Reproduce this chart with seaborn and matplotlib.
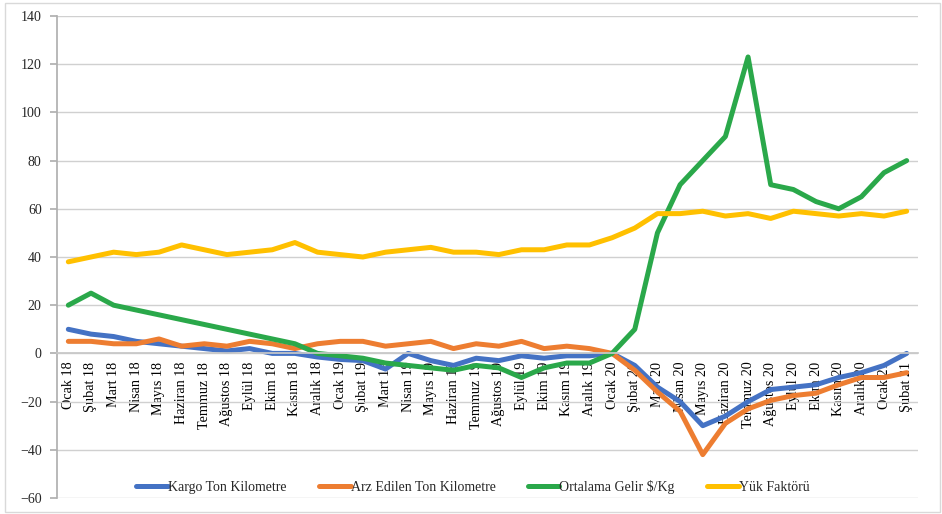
import numpy as np
import pandas as pd
import matplotlib
matplotlib.use("Agg")
import matplotlib.pyplot as plt
import seaborn as sns
from matplotlib.patches import Rectangle

months = ["Ocak 18", "Şubat 18", "Mart 18", "Nisan 18", "Mayıs 18", "Haziran 18",
          "Temmuz 18", "Ağustos 18", "Eylül 18", "Ekim 18", "Kasım 18", "Aralık 18",
          "Ocak 19", "Şubat 19", "Mart 19", "Nisan 19", "Mayıs 19", "Haziran 19",
          "Temmuz 19", "Ağustos 19", "Eylül 19", "Ekim 19", "Kasım 19", "Aralık 19",
          "Ocak 20", "Şubat 20", "Mart 20", "Nisan 20", "Mayıs 20", "Haziran 20",
          "Temmuz 20", "Ağustos 20", "Eylül 20", "Ekim 20", "Kasım 20", "Aralık 20",
          "Ocak 21", "Şubat 21"]

kargo = [10, 8, 7, 5, 4, 3, 2, 1, 2, 0, 0, -1.5,
         -2.5, -3, -6.5, 0, -3, -5, -2, -3, -1, -2, -1, -1,
         0, -5, -14, -20, -30, -26, -20, -15, -14, -13, -10, -8,
         -5, 0]
arz = [5, 5, 4, 4, 6, 3, 4, 3, 5, 4, 2, 4,
       5, 5, 3, 4, 5, 2, 4, 3, 5, 2, 3, 2,
       0, -7, -16, -24, -42, -29, -23, -19.5, -17.5, -16.5, -13, -10,
       -10, -8]
gelir = [20, 25, 20, 18, 16, 14, 12, 10, 8, 6, 4, 0,
         -1, -2, -4, -5, -6, -7, -5, -6, -10, -6, -4, -4,
         0, 10, 50, 70, 80, 90, 123, 70, 68, 63, 60, 65,
         75, 80]
yuk = [38, 40, 42, 41, 42, 45, 43, 41, 42, 43, 46, 42,
       41, 40, 42, 43, 44, 42, 42, 41, 43, 43, 45, 45,
       48, 52, 58, 58, 59, 57, 58, 56, 59, 58, 57, 58,
       57, 59]

series_names = ["Kargo Ton Kilometre", "Arz Edilen Ton Kilometre",
                "Ortalama Gelir $/Kg", "Yük Faktörü"]
colors = ["#4472C4", "#ED7D31", "#2AA84A", "#FFC000"]

n = len(months)
df = pd.DataFrame({
    "x": list(range(n)) * 4,
    "value": kargo + arz + gelir + yuk,
    "series": sum([[s] * n for s in series_names], []),
})

sns.set_theme(style="white")
plt.rcParams["font.family"] = ["Liberation Serif", "DejaVu Serif"]

fig = plt.figure(figsize=(9.42, 5.14), dpi=100)
ax = fig.add_axes([57 / 942, 1 - 498 / 514, (918 - 57) / 942, (498 - 16) / 514])

sns.lineplot(data=df, x="x", y="value", hue="series", hue_order=series_names,
             palette=colors, linewidth=3.6, ax=ax, legend=True)
for line in ax.get_lines():
    line.set_solid_capstyle("round")
    line.set_solid_joinstyle("round")

ax.set_ylim(-60, 140)
ax.set_yticks(np.arange(-60, 141, 20))
ax.set_xlim(-0.5, n - 0.5)
ax.set_xlabel("")
ax.set_ylabel("")
ax.grid(axis="y", color="#d0d0d0", linewidth=1.0)
ax.set_axisbelow(True)

for s in ["top", "right"]:
    ax.spines[s].set_visible(False)
ax.spines["left"].set_color("#b0b0b0")
ax.spines["bottom"].set_color("#c8c8c8")
ax.spines["bottom"].set_position(("data", 0))

ax.set_xticks(range(n))
ax.set_xticklabels(months, rotation=90, fontsize=10.2, color="#000000")
ax.set_xticks(np.arange(-0.5, n, 1.0), minor=True)
ax.tick_params(axis="x", which="major", length=0, pad=6)
ax.tick_params(axis="x", which="minor", length=5, color="#c8c8c8", direction="out")
ax.tick_params(axis="y", length=5, color="#b0b0b0", labelsize=10, pad=6, left=True)

leg = ax.legend(loc="lower center", bbox_to_anchor=(0.483, -0.008), ncol=4, frameon=False,
                fontsize=10, handlelength=2.3, columnspacing=2.3, handletextpad=0.0,
                borderaxespad=0.2)
for h in leg.get_lines():
    h.set_linewidth(3.6)
    h.set_solid_capstyle("round")

fig.patches.append(Rectangle((5 / 942, 2 / 514), 935 / 942, 509 / 514,
                             transform=fig.transFigure, fill=False,
                             edgecolor="#d9d9d9", linewidth=1))

fig.savefig("out.png", dpi=100)
